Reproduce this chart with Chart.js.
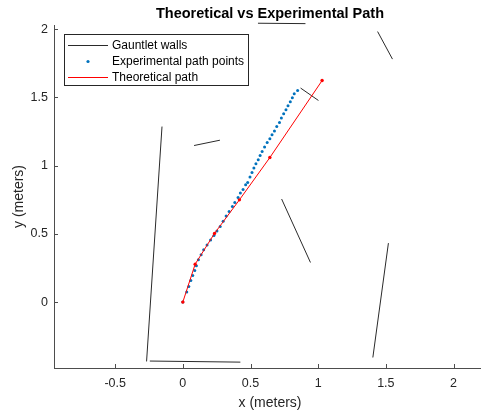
<!DOCTYPE html>
<html><head><meta charset="utf-8">
<script src="https://cdn.jsdelivr.net/npm/chart.js@4/dist/chart.umd.min.js"></script>
<style>
html,body{margin:0;padding:0;overflow:hidden;background:#fff;width:481px;height:414px}
#wrap{position:absolute;left:0;top:0;width:490px;height:414px}
</style>
</head><body><div id="wrap"><canvas id="c" width="490" height="414"></canvas></div>
<script>
const chartTitle = 'Theoretical vs Experimental Path';
const xAxisTitle = 'x (meters)';
const yAxisTitle = 'y (meters)';
const legendLabels = ['Gauntlet walls', 'Experimental path points', 'Theoretical path'];

const xTicks = [-0.5, 0, 0.5, 1, 1.5, 2];
const xTickLabels = ['-0.5', '0', '0.5', '1', '1.5', '2'];
const yTicks = [0, 0.5, 1, 1.5, 2];
const yTickLabels = ['0', '0.5', '1', '1.5', '2'];
const xLimits = [-0.952, 2.24];
const yLimits = [-0.483, 2.03];

// Gauntlet walls (segments)
const wallStartX = [-0.268, -0.244, 0.083, 0.730, 0.870, 1.439, 1.404, 0.555];
const wallStartY = [-0.435, -0.432, 1.147, 0.755, 1.568, 1.982, -0.406, 2.043];
const wallEndX   = [-0.154, 0.425, 0.274, 0.943, 1.002, 1.549, 1.519, 0.906];
const wallEndY   = [1.286, -0.440, 1.186, 0.290, 1.477, 1.780, 0.432, 2.040];

// Theoretical path
const theoX = [0, 0.091, 0.234, 0.418, 0.643, 1.029];
const theoY = [0, 0.278, 0.503, 0.749, 1.059, 1.623];

// Experimental path points
const expX = [0, 0.029, 0.044, 0.059, 0.073, 0.088, 0.100, 0.115, 0.135, 0.154, 0.179, 0.205, 0.230, 0.252, 0.276, 0.298, 0.320, 0.342, 0.366, 0.384, 0.408, 0.425, 0.445, 0.464, 0.479, 0.496, 0.511, 0.525, 0.540, 0.557, 0.571, 0.586, 0.604, 0.623, 0.643, 0.659, 0.677, 0.694, 0.714, 0.728, 0.745, 0.762, 0.777, 0.794, 0.809, 0.823, 0.848];
const expY = [0, 0.073, 0.114, 0.158, 0.195, 0.232, 0.266, 0.310, 0.347, 0.383, 0.418, 0.454, 0.488, 0.520, 0.554, 0.593, 0.630, 0.664, 0.700, 0.730, 0.766, 0.799, 0.825, 0.859, 0.876, 0.916, 0.949, 0.982, 1.013, 1.042, 1.074, 1.103, 1.136, 1.169, 1.196, 1.226, 1.253, 1.286, 1.316, 1.348, 1.379, 1.409, 1.438, 1.467, 1.497, 1.526, 1.550];

const FONT = '"Liberation Sans", Arial, Helvetica, sans-serif';
const AXIS_COLOR = '#4d4d4d';
const WALL_COLOR = '#2a2a2a';
const EXP_COLOR = '#0072BD';
const THEO_COLOR = '#FF0000';

const datasets = [];
datasets.push({
  label: legendLabels[2],
  data: theoX.map((x, i) => ({x: x, y: theoY[i]})),
  showLine: true, borderColor: THEO_COLOR, borderWidth: 1,
  pointRadius: 1.7, pointBackgroundColor: THEO_COLOR, pointBorderWidth: 0,
  clip: false
});
datasets.push({
  label: legendLabels[1],
  data: expX.map((x, i) => ({x: x, y: expY[i]})),
  showLine: false, pointRadius: 1.5, pointBackgroundColor: EXP_COLOR,
  pointBorderWidth: 0, borderColor: EXP_COLOR
});
wallStartX.forEach((sx, i) => {
  datasets.push({
    label: legendLabels[0],
    data: [{x: sx, y: wallStartY[i]}, {x: wallEndX[i], y: wallEndY[i]}],
    showLine: true, borderColor: WALL_COLOR, borderWidth: 1,
    pointRadius: 0, clip: false
  });
});

const decor = {
  id: 'decor',
  afterDatasetsDraw(chart) {
    const ctx = chart.ctx, a = chart.chartArea, xs = chart.scales.x, ys = chart.scales.y;
    ctx.save();
    // inward ticks
    ctx.strokeStyle = AXIS_COLOR; ctx.lineWidth = 1;
    ctx.beginPath();
    xTicks.forEach(v => {
      const px = Math.round(xs.getPixelForValue(v)) + 0.5;
      ctx.moveTo(px, a.bottom); ctx.lineTo(px, a.bottom - 4);
    });
    yTicks.forEach(v => {
      const py = Math.round(ys.getPixelForValue(v)) + 0.5;
      ctx.moveTo(a.left, py); ctx.lineTo(a.left + 4, py);
    });
    ctx.stroke();

    const cx = (a.left + a.right) / 2;
    ctx.textAlign = 'center'; ctx.textBaseline = 'middle';
    ctx.fillStyle = '#000';
    ctx.font = 'bold 14.5px ' + FONT;
    ctx.fillText(chartTitle, cx, 14);
    ctx.fillStyle = '#262626';
    ctx.font = '14px ' + FONT;
    ctx.fillText(xAxisTitle, cx, 403);
    ctx.save();
    ctx.translate(19, (a.top + a.bottom) / 2);
    ctx.rotate(-Math.PI / 2);
    ctx.fillText(yAxisTitle, 0, 0);
    ctx.restore();

    // legend
    const lx = 64.5, ly = 34.5, lw = 184, lh = 51;
    ctx.fillStyle = '#fff';
    ctx.fillRect(lx, ly, lw, lh);
    ctx.strokeStyle = '#262626'; ctx.lineWidth = 1;
    ctx.strokeRect(lx, ly, lw, lh);
    const rows = [45, 61, 77];
    ctx.fillStyle = WALL_COLOR;
    ctx.fillRect(68, rows[0], 40, 1);
    ctx.beginPath(); ctx.arc(88, rows[1] + 0.5, 1.6, 0, Math.PI * 2);
    ctx.fillStyle = EXP_COLOR; ctx.fill();
    ctx.fillStyle = 'rgb(255,0,0)';
    ctx.fillRect(68, rows[2], 40, 1);
    ctx.fillStyle = '#000';
    ctx.font = '12px ' + FONT;
    ctx.textAlign = 'left';
    legendLabels.forEach((t, i) => ctx.fillText(t, 112, rows[i] + 0.5));
    ctx.restore();
  }
};

new Chart(document.getElementById('c'), {
  type: 'scatter',
  data: { datasets: datasets },
  options: {
    responsive: false, animation: false, devicePixelRatio: 1,
    layout: { padding: { left: 0, top: 25, right: 0, bottom: 0 } },
    plugins: { legend: { display: false }, tooltip: { enabled: false }, title: { display: false } },
    scales: {
      x: {
        type: 'linear', min: xLimits[0], max: xLimits[1],
        afterFit: s => { s.height = 46; },
        afterBuildTicks: s => { s.ticks = xTicks.map(v => ({value: v})); },
        grid: { display: false, drawTicks: false },
        border: { display: true, color: AXIS_COLOR, width: 1 },
        ticks: {
          autoSkip: false, maxRotation: 0, padding: 8, color: '#262626',
          font: { family: FONT, size: 12.5 },
          callback: (v) => { const i = xTicks.indexOf(v); return i >= 0 ? xTickLabels[i] : ''; }
        }
      },
      y: {
        type: 'linear', min: yLimits[0], max: yLimits[1],
        afterFit: s => { s.width = 54; },
        afterBuildTicks: s => { s.ticks = yTicks.map(v => ({value: v})); },
        grid: { display: false, drawTicks: false },
        border: { display: true, color: AXIS_COLOR, width: 1 },
        ticks: {
          autoSkip: false, padding: 6, color: '#262626',
          font: { family: FONT, size: 12.5 },
          callback: (v) => { const i = yTicks.indexOf(v); return i >= 0 ? yTickLabels[i] : ''; }
        }
      }
    }
  },
  plugins: [decor]
});
</script>
</body></html>
